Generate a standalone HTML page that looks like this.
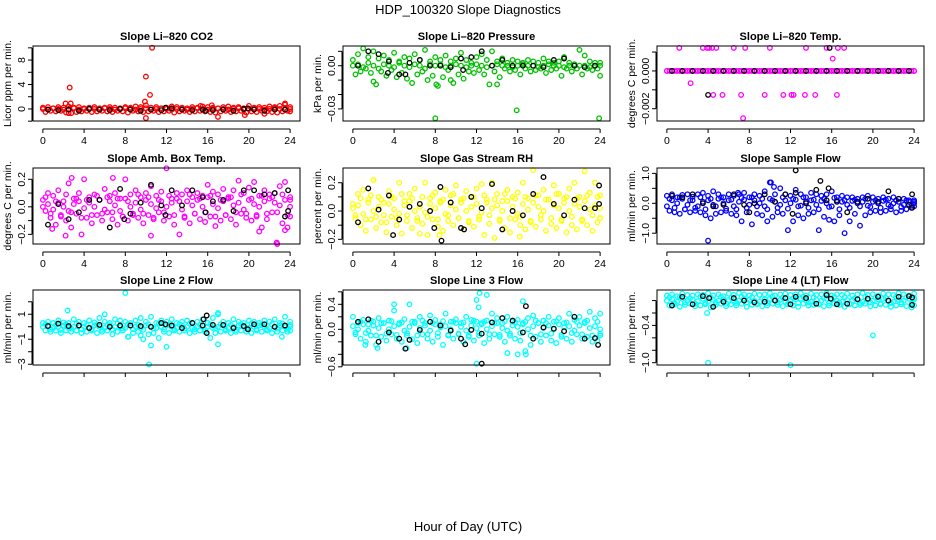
<!DOCTYPE html>
<html><head><meta charset="utf-8"><title>HDP_100320 Slope Diagnostics</title>
<style>
html,body{margin:0;padding:0;background:#fff;}
svg{display:block;font-family:"Liberation Sans",Arial,sans-serif;}
</style></head>
<body>
<svg id="chart" width="936" height="540" viewBox="0 0 936 540" xmlns="http://www.w3.org/2000/svg">
<rect x="0" y="0" width="936" height="540" fill="#fff"/>
<text x="468" y="14" text-anchor="middle" font-size="13">HDP_100320  Slope Diagnostics</text>
<text x="468" y="531" text-anchor="middle" font-size="13">Hour of Day (UTC)</text>
</svg>
<script>
// ---- shared time axes ----
const hours = [0,0.5,1,1.5,2,2.5,3,3.5,4,4.5,5,5.5,6,6.5,7,7.5,8,8.5,9,9.5,10,10.5,11,11.5,12,12.5,13,13.5,14,14.5,15,15.5,16,16.5,17,17.5,18,18.5,19,19.5,20,20.5,21,21.5,22,22.5,23,23.5,24];
const hoursB = [0.25,0.75,1.25,1.75,2.25,2.75,3.25,3.75,4.25,4.75,5.25,5.75,6.25,6.75,7.25,7.75,8.25,8.75,9.25,9.75,10.25,10.75,11.25,11.75,12.25,12.75,13.25,13.75,14.25,14.75,15.25,15.75,16.25,16.75,17.25,17.75,18.25,18.75,19.25,19.75,20.25,20.75,21.25,21.75,22.25,22.75,23.25,23.75,24];
const blackHours = [0.5,1.5,2.5,3.5,4.5,5.5,6.5,7.5,8.5,9.5,10.5,11.5,12.5,13.5,14.5,15.5,16.5,17.5,18.5,19.5,20.5,21.5,22.5,23.5];
const xTicks = [0,4,8,12,16,20,24];

// ---- CO2 ----
const co2A = [0.2,0.3,0.1,0.3,0.2,0.4,0.2,0.3,0.1,0.2,0.3,0.1,0.2,0.3,0.2,0.1,0.3,0.2,0.4,0.3,0.6,0.2,0.3,0.1,0.2,0.4,0.3,0.2,0.1,0.3,0.2,0.4,0.3,0.2,0.1,0.3,0.4,0.2,0.3,0.1,0.5,0.2,0.3,0.2,0.4,0.3,0.5,0.7,0.3];
const co2B = [-0.5,-0.3,-0.4,-0.3,-0.6,-0.7,-0.5,-0.4,-0.3,-0.5,-0.4,-0.3,-0.4,-0.5,-0.3,-0.4,-0.6,-0.3,-0.4,-0.5,-0.4,-0.3,-0.5,-0.4,-0.3,-0.6,-0.4,-0.3,-0.5,-0.4,-0.3,-0.4,-0.5,-0.6,-0.4,-0.3,-0.5,-0.4,-0.3,-0.6,-0.4,-0.5,-0.3,-0.4,-0.5,-0.6,-0.4,-0.3,-0.4];
const co2C = [0,-0.1,0.1,0,-0.1,0,0.1,-0.1,0,0.1,0,-0.1,0.1,0,-0.1,0,0.1,0,-0.1,0,0.1,-0.1,0,0.1,0,-0.1,0,0.1,-0.1,0,0.1,0,-0.1,0,0.1,0,-0.1,0,0.1,-0.1,0,0.1,0,-0.1,0,0.1,0,-0.1,0];
const co2Black = [-0.1,-0.2,-0.1,-0.3,0,-0.1,-0.2,0,-0.1,-0.3,-0.1,-0.2,0.1,-0.1,-0.2,-0.1,-0.2,-0.1,-0.3,0,-0.1,-0.3,-0.1,-0.1];
const co2OutX = [2.6,2.2,2.7,10,10.6,10.4,9.9,10,17,16.4,19.6,23.5,21.5,2.5,15.3];
const co2OutY = [3.5,0.9,0.9,5.3,10,2.3,1.2,-1.5,-1.3,0.6,-1,0.9,-0.8,-0.7,0.5];
const co2BlackOutX = [11.9,15.8,19.9];
const co2BlackOutY = [0.2,-0.3,0.1];

// ---- Pressure ----
const presA = [0.004,0.008,0.012,0.006,0.01,0.005,0.007,0.004,0.009,0.003,0.006,0.005,0.008,0.004,0.011,0.003,0.006,0.004,0.007,0.003,0.005,0.009,0.004,0.002,0.006,0.008,0.004,0.01,0.003,0.005,0.002,0.004,0.003,0.002,0.004,0.003,0.002,0.005,0.003,0.002,0.003,0.006,0.002,0.001,0.011,0.007,0.003,0.002,0.002];
const presB = [-0.006,-0.004,-0.002,-0.005,-0.013,-0.004,-0.007,-0.003,-0.008,-0.005,-0.009,-0.012,-0.006,-0.004,-0.01,-0.007,-0.014,-0.008,-0.003,-0.012,-0.006,-0.009,-0.004,-0.005,-0.003,-0.006,-0.013,-0.004,-0.008,-0.002,-0.004,-0.003,-0.006,-0.002,-0.004,-0.003,-0.002,-0.005,-0.003,-0.002,-0.007,-0.002,-0.004,-0.002,-0.006,-0.002,-0.003,-0.002,-0.007];
const presC = [0,0.001,-0.001,0.002,0,-0.002,0.001,0,-0.001,0.002,0,-0.001,0.001,0,-0.002,0.001,0,0.001,-0.001,0,0.001,0,-0.001,0,0.001,0,-0.001,0,0.001,0,0,-0.001,0,0.001,0,0,-0.001,0,0.001,0,0,-0.001,0,0.001,0,0,-0.001,0,0];
const presBlack = [0,0.01,0.008,0.003,-0.006,0.002,0.004,0,0,-0.001,0.005,0.006,0.01,0,0.004,0,0,0,-0.001,0.004,0.005,0,-0.001,0];
const presOutX = [8,15.9,23.9,8.1,2,14,9.5];
const presOutY = [-0.0365,-0.031,-0.0365,-0.013,-0.011,-0.013,-0.01];
const presBlackOutX = [5.1,3.4,10.7];
const presBlackOutY = [-0.006,-0.005,-0.003];

// ---- Li-820 Temp ----
const tempA = [0,0,0,0,0,0,0,0,0,0,0,0,0,0,0,0,0,0,0,0,0,0,0,0,0,0,0,0,0,0,0,0,0,0,0,0,0,0,0,0,0,0,0,0,0,0,0,0,0];
const tempB = [0,0,0,0,0,0,0,0,0,0,0,0,0,0,0,0,0,0,0,0,0,0,0,0,0,0,0,0,0,0,0,0,0,0,0,0,0,0,0,0,0,0,0,0,0,0,0,0,0];
const tempC = [0,0,0,0,0,0,0,0,0,0,0,0,0,0,0,0,0,0,0,0,0,0,0,0,0,0,0,0,0,0,0,0,0,0,0,0,0,0,0,0,0,0,0,0,0,0,0,0,0];
const tempBlack = [0,0,0,0,0,0,0,0,0,0,0,0,0,0,0,0,0,0,0,0,0,0,0,0];
const tempOutX = [1.2,3.5,3.9,4.1,4.4,4.8,6.5,7.6,10,13.5,15.5,16.6,17.2,4.5,5.4,7.2,9.5,11.3,12.1,12.3,13.4,14.4,16.5,2.3,16.1,7.4];
const tempOutY = [0.00122,0.00122,0.00122,0.00122,0.00122,0.00122,0.00122,0.00122,0.00122,0.00122,0.00122,0.00122,0.00122,-0.00127,-0.00127,-0.00127,-0.00127,-0.00127,-0.00127,-0.00127,-0.00127,-0.00127,-0.00127,-0.00065,0.00065,-0.0025];
const tempBlackOutX = [15.8,4];
const tempBlackOutY = [0.00122,-0.00127];

// ---- Amb Box Temp ----
const ambA = [0.05,0.1,0.08,0.12,0.04,0.17,0.06,0.1,0.2,0.07,0.09,0.05,0.13,0.08,0.1,0.06,0.2,0.09,0.12,0.07,0.1,0.15,0.08,0.11,0.28,0.06,0.1,0.09,0.12,0.07,0.1,0.08,0.16,0.11,0.09,0.13,0.07,0.12,0.19,0.1,0.14,0.18,0.08,0.12,0.09,0.1,0.15,0.18,0.07];
const ambB = [-0.03,-0.08,-0.13,-0.06,-0.1,-0.15,-0.05,-0.2,-0.08,-0.12,-0.06,-0.1,-0.04,-0.09,-0.13,-0.07,-0.1,-0.05,-0.08,-0.12,-0.06,-0.09,-0.04,-0.1,-0.07,-0.13,-0.2,-0.08,-0.12,-0.05,-0.09,-0.11,-0.07,-0.14,-0.1,-0.06,-0.09,-0.13,-0.05,-0.08,-0.1,-0.06,-0.15,-0.09,-0.04,-0.27,-0.12,-0.15,-0.07];
const ambC = [0,0.02,-0.02,0.03,0,-0.03,0.02,0.04,-0.01,0.03,0,0.05,-0.02,0.04,0.01,-0.03,0.06,0,0.03,-0.02,0.05,0.02,-0.01,0.04,0,0.03,0.06,-0.02,0.04,0.01,0.05,0,0.07,0.02,-0.01,0.04,0.06,0.01,0.03,-0.02,0.05,0.02,0,0.04,0.06,0.03,0.01,0.05,0];
const ambD = [0.07,-0.05,0.04,-0.07,0.09,-0.04,0.06,-0.08,0.05,-0.06,0.08,-0.05,0.07,-0.04,0.06,-0.07,0.04,-0.06,0.09,-0.05,0.07,-0.08,0.05,-0.04,0.08,-0.06,0.04,-0.07,0.09,-0.05,0.06,-0.04,0.08,-0.07,0.05,-0.06,0.07,-0.04,0.09,-0.05,0.06,-0.07,0.08,-0.05,0.07,-0.04,0.09,-0.06,0.05];
const ambBlack = [-0.13,0.02,-0.09,-0.04,0.05,0.05,-0.15,0.13,-0.05,0.03,0.16,0.01,0.12,0.01,0.12,0.07,0.04,0.05,-0.03,0.12,0.12,0.09,0.1,-0.07];
const ambOutX = [2.2,2.8,10.5,6.8,21,22.7,23.5,0.9];
const ambOutY = [-0.21,0.21,-0.21,0.21,-0.18,-0.26,-0.17,-0.16];
const ambBlackOutX = [23.8,23.8,7.9,11.9,15.8];
const ambBlackOutY = [0.12,-0.03,-0.09,-0.06,-0.04];

// ---- Gas Stream RH ----
const rhA = [0.05,0.12,0.15,0.08,0.22,0.1,0.06,0.14,0.09,0.2,0.07,0.12,0.16,0.05,0.2,0.09,0.13,0.07,0.15,0.11,0.18,0.06,0.14,0.1,0.16,0.19,0.08,0.2,0.12,0.07,0.15,0.1,0.13,0.2,0.09,0.29,0.11,0.15,0.08,0.18,0.12,0.09,0.16,0.2,0.1,0.28,0.13,0.2,0.11];
const rhB = [-0.05,-0.1,-0.14,-0.06,-0.12,-0.08,-0.15,-0.04,-0.1,-0.16,-0.07,-0.12,-0.05,-0.09,-0.17,-0.06,-0.11,-0.14,-0.07,-0.1,-0.05,-0.13,-0.08,-0.11,-0.06,-0.17,-0.09,-0.19,-0.07,-0.12,-0.15,-0.06,-0.1,-0.13,-0.08,-0.11,-0.06,-0.14,-0.09,-0.12,-0.07,-0.15,-0.1,-0.13,-0.06,-0.1,-0.14,-0.08,-0.05];
const rhC = [0.02,0.04,-0.02,0.06,0,0.03,-0.03,0.05,0.01,-0.02,0.04,0.07,0,0.03,-0.01,0.05,0.02,0.06,-0.02,0.04,0.01,0.08,0,0.03,0.05,-0.01,0.06,0.02,0.04,0,0.07,0.03,-0.02,0.05,0.01,0.06,0.03,0,0.08,0.04,0.02,0.06,0,0.05,0.03,0.07,0.01,0.04,0.02];
const rhD = [-0.03,0.09,-0.06,0.11,-0.04,0.08,-0.08,0.1,-0.05,0.12,-0.03,0.09,-0.07,0.1,-0.04,0.11,-0.06,0.08,-0.03,0.12,-0.05,0.09,-0.07,0.1,-0.04,0.11,-0.03,0.08,-0.06,0.12,-0.05,0.09,-0.04,0.1,-0.07,0.11,-0.03,0.08,-0.05,0.12,-0.06,0.1,-0.04,0.09,-0.07,0.11,-0.03,0.1,-0.05];
const rhBlack = [-0.08,0.16,0.01,0.11,-0.06,0.03,0.05,0.0,0.17,0.06,-0.12,0.1,0.02,0.19,-0.13,0.0,-0.03,0.12,0.24,0.05,-0.03,0.08,0.02,0.02];
const rhOutX = [8.4,16.2,2,6.5];
const rhOutY = [-0.17,-0.18,0.22,-0.16];
const rhBlackOutX = [8.6,3.9,7.9,23.9,23.9,10.8];
const rhBlackOutY = [-0.21,-0.17,-0.12,0.18,0.05,-0.13];

// ---- Sample Flow ----
const sfA = [0.25,0.3,0.2,0.28,0.3,0.22,0.3,0.35,0.25,0.4,0.3,0.2,0.3,0.25,0.3,0.35,0.2,0.3,0.25,0.4,0.7,0.3,0.5,0.3,0.25,0.45,0.3,0.2,0.35,0.3,0.25,0.3,0.4,0.2,0.25,0.2,0.2,0.15,0.2,0.25,0.2,0.15,0.2,0.15,0.2,0.15,0.15,0.1,0.1];
const sfB = [-0.25,-0.3,-0.35,-0.2,-0.3,-0.25,-0.3,-0.4,-0.5,-0.35,-0.3,-0.25,-0.35,-0.4,-0.6,-0.3,-0.7,-0.35,-0.4,-0.6,-0.45,-0.3,-0.35,-0.9,-0.6,-0.4,-0.5,-0.35,-0.3,-0.9,-0.45,-0.55,-0.6,-0.4,-1.0,-0.6,-0.35,-0.75,-0.4,-0.3,-0.25,-0.3,-0.25,-0.2,-0.3,-0.25,-0.2,-0.15,-0.1];
const sfC = [-0.1,0.1,0,0.15,-0.05,0.1,-0.1,0.05,0.1,-0.05,0.15,0,0.1,-0.1,0.05,0.12,-0.05,0.1,0,-0.1,0.15,0.05,-0.05,0.1,0,0.12,-0.08,0.05,0.1,-0.05,0.08,0,-0.1,0.1,0.05,-0.05,0.08,0,0.05,-0.08,0.05,0,0.08,-0.05,0,0.05,-0.05,0.05,0];
const sfD = [0.15,-0.15,0.2,-0.2,0.1,-0.15,0.2,-0.2,0.15,-0.1,0.2,-0.18,0.12,-0.2,0.18,-0.15,0.2,-0.1,0.15,-0.2,0.1,-0.15,0.2,-0.18,0.15,-0.1,0.2,-0.15,0.12,-0.2,0.15,-0.12,0.18,-0.2,0.1,-0.15,0.12,-0.1,0.15,-0.12,0.1,-0.15,0.12,-0.1,0.1,-0.12,0.1,-0.08,0.05];
const sfBlack = [0.25,0.2,0.3,0.0,-0.1,-0.05,0.3,-0.05,0.0,0.3,0.05,0.3,0.35,0.0,0.45,0.1,0.05,-0.3,0.05,0.15,0.05,0.4,0.15,-0.05];
const sfOutX = [4,10.1,10.4,6.9];
const sfOutY = [-1.25,0.7,0.55,0.35];
const sfBlackOutX = [12.5,14.9,15.7,12.2,23.8,23.8,8];
const sfBlackOutY = [1.1,0.75,0.5,-0.35,0.3,-0.15,-0.3];

// ---- Line 2 Flow ----
const l2A = [0.3,0.4,0.3,0.5,0.35,0.3,0.6,0.4,0.3,0.5,0.35,0.7,0.4,0.3,0.6,0.5,0.4,0.3,0.5,0.7,0.4,0.8,0.3,0.5,0.4,0.6,0.3,0.4,0.5,0.3,0.4,0.6,0.3,0.7,1.0,0.4,0.3,0.6,0.4,0.3,0.5,0.4,0.3,0.5,0.4,0.6,0.3,0.8,0.4];
const l2B = [-0.3,-0.4,-0.3,-0.5,-0.3,-0.4,-0.3,-0.5,-0.4,-0.3,-0.5,-0.4,-0.3,-0.6,-0.4,-0.3,-0.8,-0.5,-0.4,-1.0,-0.6,-0.5,-0.9,-0.4,-0.5,-0.3,-0.4,-0.3,-0.5,-0.4,-0.3,-0.4,-0.9,-0.5,-0.4,-0.3,-0.5,-0.4,-0.3,-0.4,-0.5,-0.3,-0.4,-0.3,-0.5,-0.4,-0.3,-0.4,-0.3];
const l2C = [0,0.1,-0.1,0,0.1,-0.1,0,0.1,0,-0.1,0.1,0,-0.1,0.1,0,0,-0.1,0.1,0,-0.1,0.1,0,-0.1,0,0.1,0,-0.1,0.1,0,-0.1,0,0.1,0,-0.1,0,0.1,-0.1,0,0.1,0,-0.1,0,0.1,0,-0.1,0,0.1,0,0];
const l2D = [0.2,-0.2,0.15,-0.25,0.2,-0.15,0.25,-0.2,0.15,-0.2,0.2,-0.25,0.15,-0.2,0.25,-0.15,0.2,-0.2,0.15,-0.25,0.2,-0.15,0.25,-0.2,0.15,-0.2,0.2,-0.15,0.25,-0.2,0.15,-0.25,0.2,-0.15,0.2,-0.2,0.15,-0.25,0.2,-0.15,0.25,-0.2,0.15,-0.2,0.2,-0.15,0.25,-0.2,0.15];
const l2Black = [0.05,0.25,0.05,0.1,-0.1,0.15,0,0.1,0.1,0.05,0,0.3,0.1,-0.1,0.3,0.1,0.15,0.15,-0.1,0.05,0.2,0.2,0,0.1];
const l2OutX = [8,10.3,10.5,8.3,12,17,23.2,2.4,17,9.5,6];
const l2OutY = [2.7,-3,-1.5,-0.8,-1.6,-1.4,-0.8,1.3,1.1,-0.7,1.0];
const l2BlackOutX = [15.9,15.9,15.6,11.9,19.9];
const l2BlackOutY = [0.9,-0.5,0.6,0.2,-0.2];

// ---- Line 3 Flow ----
const l3A = [0.2,0.1,0.15,0.08,0.12,0.18,0.1,0.14,0.3,0.1,0.16,0.4,0.12,0.2,0.1,0.22,0.15,0.08,0.25,0.12,0.16,0.1,0.2,0.15,0.12,0.1,0.14,0.25,0.18,0.1,0.2,0.12,0.15,0.1,0.18,0.22,0.1,0.14,0.2,0.12,0.18,0.1,0.25,0.15,0.2,0.12,0.28,0.18,0.25];
const l3B = [-0.05,-0.15,-0.2,-0.1,-0.25,-0.12,-0.18,-0.08,-0.15,-0.2,-0.1,-0.16,-0.22,-0.08,-0.15,-0.2,-0.12,-0.25,-0.1,-0.15,-0.08,-0.2,-0.12,-0.18,-0.1,-0.22,-0.15,-0.08,-0.12,-0.2,-0.1,-0.15,-0.18,-0.35,-0.25,-0.12,-0.2,-0.1,-0.18,-0.22,-0.12,-0.15,-0.2,-0.08,-0.15,-0.12,-0.2,-0.18,-0.1];
const l3C = [0.05,0,0.08,-0.02,0.06,0.02,0.1,0,0.05,0.08,-0.02,0.04,0.1,0.02,0.06,-0.02,0.08,0.03,0.05,0,0.1,0.04,-0.02,0.06,0.02,0.08,0,0.05,0.1,0.02,-0.02,0.06,0.04,0.08,0,0.05,0.1,0.02,0.06,0,0.08,0.03,0.05,-0.02,0.06,0.1,0.02,0.05,0];
const l3D = [-0.08,0.12,-0.06,0.14,-0.1,0.1,-0.07,0.13,-0.09,0.11,-0.06,0.12,-0.1,0.14,-0.08,0.1,-0.06,0.13,-0.09,0.12,-0.07,0.11,-0.1,0.14,-0.06,0.12,-0.08,0.1,-0.09,0.13,-0.07,0.11,-0.06,0.12,-0.1,0.14,-0.08,0.1,-0.07,0.13,-0.09,0.11,-0.06,0.12,-0.08,0.14,-0.1,0.12,-0.07];
const l3OutX = [12.3,13,12,12.2,12,16.5,15,16,16.8,2.4,5.2,4,1.2];
const l3OutY = [0.58,0.55,0.47,0.35,-0.55,0.45,-0.38,-0.4,-0.4,-0.3,-0.3,0.4,-0.25];
const l3Black = [0.12,0.16,-0.2,-0.05,-0.15,-0.17,-0.01,0.12,0.06,-0.02,-0.15,-0.01,-0.07,0.11,0.18,0.14,-0.05,-0.15,0.03,0.01,-0.03,0.2,-0.15,-0.14];
const l3BlackOutX = [12.5,16.8,5.1,10.9,23.8];
const l3BlackOutY = [-0.55,0.37,-0.31,-0.24,-0.25];

// ---- Line 4 Flow ----
const l4A = [0.08,0.1,0.07,0.11,0.09,0.08,0.1,0.09,0.12,0.08,0.1,0.07,0.11,0.09,0.12,0.1,0.08,0.11,0.09,0.1,0.12,0.08,0.1,0.11,0.09,0.1,0.12,0.08,0.11,0.09,0.1,0.12,0.08,0.1,0.09,0.11,0.08,0.1,0.12,0.09,0.1,0.08,0.11,0.1,0.09,0.12,0.1,0.08,0.11];
const l4B = [-0.08,-0.06,-0.1,-0.07,-0.05,-0.09,-0.08,-0.06,-0.11,-0.07,-0.05,-0.09,-0.06,-0.08,-0.05,-0.1,-0.07,-0.06,-0.09,-0.08,-0.05,-0.07,-0.09,-0.06,-0.08,-0.1,-0.05,-0.08,-0.07,-0.06,-0.09,-0.08,-0.05,-0.07,-0.1,-0.06,-0.08,-0.07,-0.05,-0.09,-0.08,-0.06,-0.07,-0.1,-0.08,-0.06,-0.09,-0.11,-0.08];
const l4C = [0.0,0.02,-0.02,0.03,0.0,0.01,-0.01,0.03,-0.02,0.01,0.0,0.02,0.01,-0.02,0.0,0.03,0.01,0.0,-0.02,0.02,0.03,0.0,0.01,-0.02,0.0,0.02,0.03,0.0,-0.02,0.01,0.0,0.03,0.02,0.0,-0.02,0.01,0.0,0.03,-0.02,0.01,0.0,0.02,0.03,0.0,-0.02,0.01,0.0,0.03,0.02];
const l4D = [0.05,-0.04,0.06,-0.03,0.04,-0.05,0.06,-0.04,0.05,-0.03,0.06,-0.05,0.04,-0.04,0.06,-0.03,0.05,-0.05,0.04,-0.04,0.06,-0.03,0.05,-0.05,0.04,-0.04,0.06,-0.03,0.05,-0.05,0.04,-0.04,0.06,-0.03,0.05,-0.05,0.04,-0.04,0.06,-0.03,0.05,-0.05,0.04,-0.04,0.06,-0.03,0.05,-0.05,0.04];
const l4Black = [-0.08,0.06,-0.06,0.07,-0.1,-0.02,0.04,0.0,-0.03,-0.02,0.0,0.04,0.06,0.04,-0.05,0.09,-0.06,-0.05,0.02,0.03,0.06,0.0,0.06,0.07];
const l4OutX = [4,12,20,3.9];
const l4OutY = [-1.0,-1.04,-0.56,-0.2];
const l4BlackOutX = [4.1,12,15.9,23.8,23.8];
const l4BlackOutY = [0.04,-0.06,0.03,-0.07,0.05];

// ---- Panel layout ----
const cols = [33, 343, 657];
const rows = [[46,121],[168,244],[290,365]];
const W = 267;
const panels = [
 {name:'co2',title:'Slope Li\u2013820 CO2',ylab:'Licor ppm per min.',col:0,row:0,ylim:[-1.97,10.3],ticks:[-2,0,2,4,6,8,10],labels:[[0,'0'],[4,'4'],[8,'8']],color:'#ff0000',series:[co2A,co2B,co2C],bk:co2Black,ox:co2OutX,oy:co2OutY,bx:co2BlackOutX,by:co2BlackOutY},
 {name:'pressure',title:'Slope Li\u2013820 Pressure',ylab:'kPa per min.',col:1,row:0,ylim:[-0.0384,0.0137],ticks:[0.01,0,-0.01,-0.02,-0.03],labels:[[0,'0.00'],[-0.03,'\u22120.03']],color:'#00c000',series:[presA,presB,presC],bk:presBlack,ox:presOutX,oy:presOutY,bx:presBlackOutX,by:presBlackOutY},
 {name:'temp',title:'Slope Li\u2013820 Temp.',ylab:'degrees C per min.',col:2,row:0,ylim:[-0.00265,0.00132],ticks:[0.001,0,-0.001,-0.002],labels:[[0,'0.000'],[-0.002,'\u22120.002']],color:'#ff00ff',series:[tempA,tempB,tempC],bk:tempBlack,ox:tempOutX,oy:tempOutY,bx:tempBlackOutX,by:tempBlackOutY},
 {name:'amb-box-temp',title:'Slope Amb. Box Temp.',ylab:'degrees C per min.',col:0,row:1,ylim:[-0.27,0.282],ticks:[0.2,0.1,0,-0.1,-0.2],labels:[[0.2,'0.2'],[0,'0.0'],[-0.2,'\u22120.2']],color:'#ff00ff',series:[ambA,ambB,ambC,ambD],bk:ambBlack,ox:ambOutX,oy:ambOutY,bx:ambBlackOutX,by:ambBlackOutY},
 {name:'gas-stream-rh',title:'Slope Gas Stream RH',ylab:'percent per min.',col:1,row:1,ylim:[-0.233,0.304],ticks:[0.2,0.1,0,-0.1,-0.2],labels:[[0.2,'0.2'],[0,'0.0'],[-0.2,'\u22120.2']],color:'#ffff00',series:[rhA,rhB,rhC,rhD],bk:rhBlack,ox:rhOutX,oy:rhOutY,bx:rhBlackOutX,by:rhBlackOutY},
 {name:'sample-flow',title:'Slope Sample Flow',ylab:'ml/min per min.',col:2,row:1,ylim:[-1.36,1.18],ticks:[1,0.5,0,-0.5,-1],labels:[[1,'1.0'],[0,'0.0'],[-1,'\u22121.0']],color:'#0000ff',series:[sfA,sfB,sfC,sfD],bk:sfBlack,ox:sfOutX,oy:sfOutY,bx:sfBlackOutX,by:sfBlackOutY},
 {name:'line2-flow',title:'Slope Line 2 Flow',ylab:'ml/min per min.',col:0,row:2,ylim:[-3.06,2.94],ticks:[2,1,0,-1,-2,-3],labels:[[1,'1'],[-1,'\u22121'],[-3,'\u22123']],color:'#00ffff',series:[l2A,l2B,l2C,l2D],bk:l2Black,ox:l2OutX,oy:l2OutY,bx:l2BlackOutX,by:l2BlackOutY},
 {name:'line3-flow',title:'Slope Line 3 Flow',ylab:'ml/min per min.',col:1,row:2,ylim:[-0.571,0.629],ticks:[0.6,0.4,0.2,0,-0.2,-0.4,-0.6],labels:[[0.4,'0.4'],[0,'0.0'],[-0.6,'\u22120.6']],color:'#00ffff',series:[l3A,l3B,l3C,l3D],bk:l3Black,ox:l3OutX,oy:l3OutY,bx:l3BlackOutX,by:l3BlackOutY},
 {name:'line4-flow',title:'Slope Line 4 (LT) Flow',ylab:'ml/min per min.',col:2,row:2,ylim:[-1.037,0.17],ticks:[0,-0.2,-0.4,-0.6,-0.8,-1.0],labels:[[-0.4,'\u22120.4'],[-1.0,'\u22121.0']],color:'#00ffff',series:[l4A,l4B,l4C,l4D],bk:l4Black,ox:l4OutX,oy:l4OutY,bx:l4BlackOutX,by:l4BlackOutY}
];

const NS = 'http://www.w3.org/2000/svg';
const svg = document.getElementById('chart');
function mk(tag, attrs, parent){
  const e = document.createElementNS(NS, tag);
  for (const k in attrs) e.setAttribute(k, attrs[k]);
  (parent||svg).appendChild(e);
  return e;
}
panels.forEach(p => {
  const x0 = cols[p.col], x1 = x0 + W;
  const yTop = rows[p.row][0], yBot = rows[p.row][1];
  const xs = v => x0 + (v + 0.96) / 25.92 * W;
  const ys = v => yBot - (v - p.ylim[0]) / (p.ylim[1] - p.ylim[0]) * (yBot - yTop);
  const g = mk('g', {});
  
  
  const t = mk('text', {x:(x0+x1)/2, y:yTop-6, 'text-anchor':'middle', 'font-size':'11', 'font-weight':'bold'}, g);
  t.textContent = p.title;
  
  
  const yl = mk('text', {x:0, y:0, 'text-anchor':'middle', 'font-size':'10.5', transform:'translate(' + (x0-22) + ',' + ((yTop+yBot)/2) + ') rotate(-90)'}, g);
  yl.textContent = p.ylab;
  
  
  const pts = mk('g', {fill:'none', 'stroke-width':'1.3'}, g);
  
  
  const dot = (x, y, c) => {
    const yy = ys(y);
    if (yy < yTop - 2 || yy > yBot + 2) return;
    const e = mk('circle', {cx:xs(x).toFixed(1), cy:yy.toFixed(1), r:'2.3', stroke:c}, pts);
    
    
  };
  p.series.forEach((arr, si) => {
    const hx = (si % 2 === 0) ? hours : hoursB;
    hx.forEach((h, i) => dot(h, arr[i], p.color));
  });
  p.ox.forEach((x, i) => dot(x, p.oy[i], p.color));
  blackHours.forEach((h, i) => dot(h, p.bk[i], '#000'));
  p.bx.forEach((x, i) => dot(x, p.by[i], '#000'));
  const box = mk('rect', {x:x0, y:yTop, width:W, height:yBot-yTop, fill:'none', stroke:'#000', 'stroke-width':'1'}, g);
  
  
  mk('line', {x1:xs(0), x2:xs(24), y1:yBot+8, y2:yBot+8, stroke:'#000'}, g);
  xTicks.forEach(v => {
    mk('line', {x1:xs(v), x2:xs(v), y1:yBot+8, y2:yBot+12, stroke:'#000'}, g);
    if (p.row < 2) {
      const tl = mk('text', {x:xs(v), y:yBot+23, 'text-anchor':'middle', 'font-size':'10.5'}, g);
      tl.textContent = String(v);
      
      
    }
  });
  const ytv = p.ticks.map(ys);
  mk('line', {x1:x0-1, x2:x0-1, y1:Math.min(...ytv), y2:Math.max(...ytv), stroke:'#000'}, g);
  p.ticks.forEach(v => mk('line', {x1:x0-5, x2:x0-1, y1:ys(v), y2:ys(v), stroke:'#000'}, g));
  p.labels.forEach(([v, s]) => {
    const lab = mk('text', {x:0, y:0, 'text-anchor':'middle', 'font-size':'10.5', transform:'translate(' + (x0-8) + ',' + ys(v) + ') rotate(-90)'}, g);
    lab.textContent = s;
    
    
  });
});
</script>
</body></html>
